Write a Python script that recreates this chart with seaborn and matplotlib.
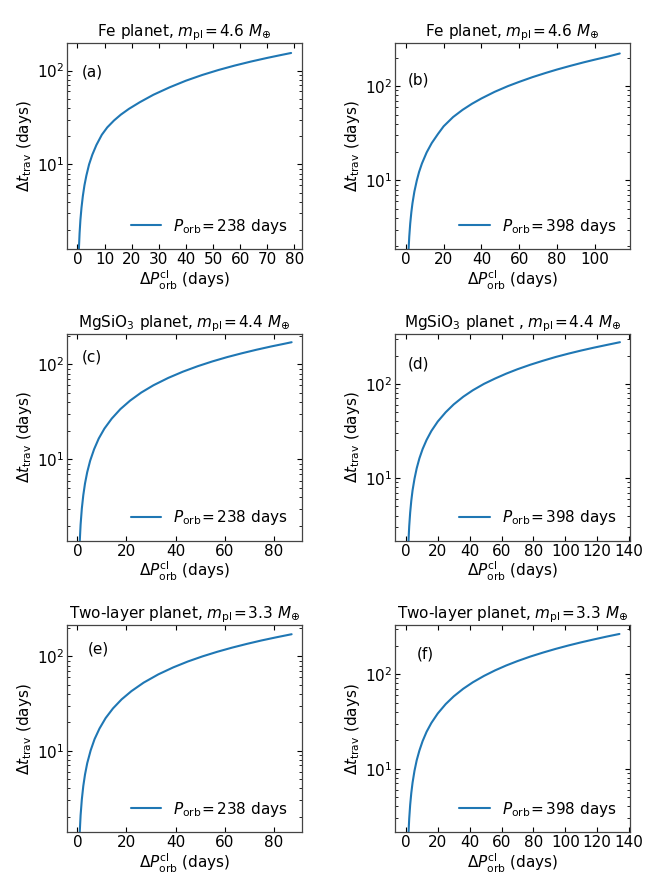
import matplotlib
matplotlib.use('Agg')
import matplotlib.pyplot as plt
import matplotlib.ticker as mticker
import seaborn as sns

# ── Data ───────────────────────────────────────────────────────────────
dP_a = [0.45, 0.55, 0.8, 1.1, 1.5, 2.0, 2.6, 3.3, 4.3, 5.5, 7.0, 9.0, 11.0, 13.5,
        16.0, 19.0, 23.0, 28.0, 34.0, 40.0, 46.0, 52.0, 58.0, 64.0, 70.0, 75.0, 78.8]
dt_a = [1.0, 1.27, 1.85, 2.55, 3.45, 4.6, 6.0, 7.6, 10.0, 12.7, 16.1, 20.7, 24.8, 29.4,
        33.9, 39.1, 46.0, 55.2, 66.3, 78.0, 89.7, 101.4, 113.1, 124.8, 136.5, 146.3, 154.0]

dP_b = [1.0, 1.43, 1.8, 2.3, 2.9, 3.5, 4.5, 5.8, 7.0, 8.5, 11.0, 13.7, 17.0, 20.0, 25.0,
        30.0, 35.0, 40.0, 47.0, 54.0, 60.0, 67.0, 74.0, 80.0, 87.0, 94.0, 100.0, 107.0, 113.2]
dt_b = [1.03, 1.84, 2.54, 3.48, 4.6, 5.73, 7.6, 10.0, 12.3, 15.1, 19.8, 24.9, 31.1, 37.5, 47.0,
        56.0, 65.0, 74.0, 87.0, 100.0, 111.0, 124.5, 138.0, 150.0, 164.0, 178.5, 191.0, 206.0, 222.0]

dP_c = [0.75, 0.95, 1.3, 1.8, 2.4, 3.1, 4.0, 5.2, 6.8, 8.7, 11.0, 14.0, 17.5, 21.5, 26.0,
        31.0, 37.0, 43.0, 49.0, 55.0, 61.0, 67.0, 73.0, 79.0, 84.0, 87.3]
dt_c = [0.98, 1.37, 2.06, 3.04, 4.21, 5.59, 7.35, 9.7, 12.8, 16.6, 21.1, 26.9, 33.8, 41.6, 50.5,
        60.3, 72.0, 83.8, 95.6, 107.4, 119.2, 130.8, 142.6, 154.4, 164.1, 171.0]

dP_d = [1.2, 1.67, 2.1, 2.7, 3.4, 4.2, 5.4, 6.8, 8.5, 10.5, 13.0, 16.0, 20.0, 25.0, 30.0,
        36.0, 42.0, 49.0, 56.0, 63.0, 70.0, 78.0, 86.0, 94.0, 102.0, 110.0, 118.0, 126.0, 134.3]
dt_d = [1.23, 2.19, 3.08, 4.3, 5.74, 7.4, 9.8, 12.7, 16.2, 20.3, 25.4, 31.6, 39.8, 50.0, 60.5,
        73.0, 85.5, 100.0, 114.0, 128.5, 143.0, 159.5, 176.0, 193.0, 209.5, 226.0, 242.5, 259.0, 277.0]

dP_e = [0.75, 0.95, 1.3, 1.8, 2.4, 3.1, 4.0, 5.4, 7.0, 9.0, 11.5, 14.5, 18.0, 22.0, 27.0,
        33.0, 39.0, 45.0, 51.0, 57.0, 63.0, 69.0, 75.0, 81.0, 87.3]
dt_e = [0.99, 1.38, 2.07, 3.05, 4.24, 5.61, 7.39, 10.1, 13.3, 17.2, 22.2, 28.1, 35.0, 42.8, 52.7,
        64.5, 76.3, 88.2, 100.0, 111.8, 123.6, 135.4, 147.3, 159.0, 171.5]

dP_f = [1.2, 1.67, 2.1, 2.7, 3.4, 4.2, 5.4, 6.8, 8.5, 10.5, 13.0, 16.0, 20.0, 25.0, 30.0,
        36.0, 42.0, 49.0, 56.0, 63.0, 70.0, 78.0, 86.0, 94.0, 102.0, 110.0, 118.0, 126.0, 134.0]
dt_f = [1.19, 2.12, 2.97, 4.16, 5.54, 7.13, 9.5, 12.3, 15.6, 19.6, 24.6, 30.5, 38.4, 48.3, 58.2,
        70.1, 82.0, 95.8, 109.7, 123.6, 137.4, 153.3, 169.0, 185.0, 201.0, 217.0, 233.0, 249.5, 266.0]

EQ = r'\hspace{-0.09}=\hspace{-0.09}'
titles = [r'Fe planet, $m_{\rm pl}' + EQ + r'4.6\ M_{\oplus}$',
          r'Fe planet, $m_{\rm pl}' + EQ + r'4.6\ M_{\oplus}$',
          r'MgSiO$_3$ planet, $m_{\rm pl}' + EQ + r'4.4\ M_{\oplus}$',
          r'MgSiO$_3$ planet , $m_{\rm pl}' + EQ + r'4.4\ M_{\oplus}$',
          r'Two-layer planet, $m_{\rm pl}' + EQ + r'3.3\ M_{\oplus}$',
          r'Two-layer planet, $m_{\rm pl}' + EQ + r'3.3\ M_{\oplus}$']
tags = ['(a)', '(b)', '(c)', '(d)', '(e)', '(f)']
legend_labels = [r'$P_{\rm orb}' + EQ + r'238$ days',
                 r'$P_{\rm orb}' + EQ + r'398$ days'] * 3

series = [(dP_a, dt_a), (dP_b, dt_b), (dP_c, dt_c),
          (dP_d, dt_d), (dP_e, dt_e), (dP_f, dt_f)]

# axis limits and tag positions per panel
xlims = [(-3.94, 82.7), (-5.65, 118.7), (-4.35, 91.4),
         (-6.7, 140.7), (-4.35, 91.4), (-6.7, 140.7)]
ylims = [(1.24, 199), (1.85, 290), (1.39, 209),
         (2.15, 339), (1.37, 213), (2.13, 328)]
xsteps = [10, 20, 20, 20, 20, 20]
tag_pos = [(0.11, 0.86), (0.10, 0.82), (0.107, 0.89),
           (0.10, 0.856), (0.134, 0.886), (0.128, 0.863)]

# ── Style ──────────────────────────────────────────────────────────────
sns.set_theme(style='ticks')
plt.rcParams['font.family'] = ['DejaVu Sans']
plt.rcParams['mathtext.fontset'] = 'dejavusans'
plt.rcParams['text.color'] = 'black'
plt.rcParams['axes.labelcolor'] = 'black'
plt.rcParams['xtick.color'] = 'black'
plt.rcParams['ytick.color'] = 'black'
FS = 11

fig, axes = plt.subplots(3, 2, figsize=(6.64, 8.86), dpi=100)
fig.subplots_adjust(left=0.1005, right=0.949, top=0.952, bottom=0.0606,
                    wspace=0.398, hspace=0.408)
axes = axes.flatten()

for i, ax in enumerate(axes):
    x, y = series[i]
    sns.lineplot(x=x, y=y, ax=ax, color='#1f77b4', lw=1.5,
                 sort=False, estimator=None, label=legend_labels[i])
    ax.set_yscale('log')
    ax.set_xlim(*xlims[i])
    ax.set_ylim(*ylims[i])
    ax.xaxis.set_major_locator(mticker.MultipleLocator(xsteps[i]))
    ax.tick_params(axis='both', which='both', direction='in',
                   labelsize=FS, right=True, top=True, pad=2)
    ax.tick_params(axis='both', which='major', length=3.5, width=0.8)
    ax.tick_params(axis='y', which='minor', length=2, width=0.6)
    ax.set_title(titles[i], fontsize=FS, pad=2)
    ax.set_xlabel(r'$\Delta P_{\rm orb}^{\rm cl}$ (days)', fontsize=FS, labelpad=1)
    ax.set_ylabel(r'$\Delta t_{\rm trav}$ (days)', fontsize=FS, labelpad=2)
    ax.text(*tag_pos[i], tags[i], transform=ax.transAxes,
            ha='center', va='center', fontsize=FS)
    ax.legend(loc='lower right', frameon=False, fontsize=FS, handlelength=2.0)
    for s in ax.spines.values():
        s.set_color('#444444')
        s.set_linewidth(0.9)

fig.savefig('out.png', dpi=100)
